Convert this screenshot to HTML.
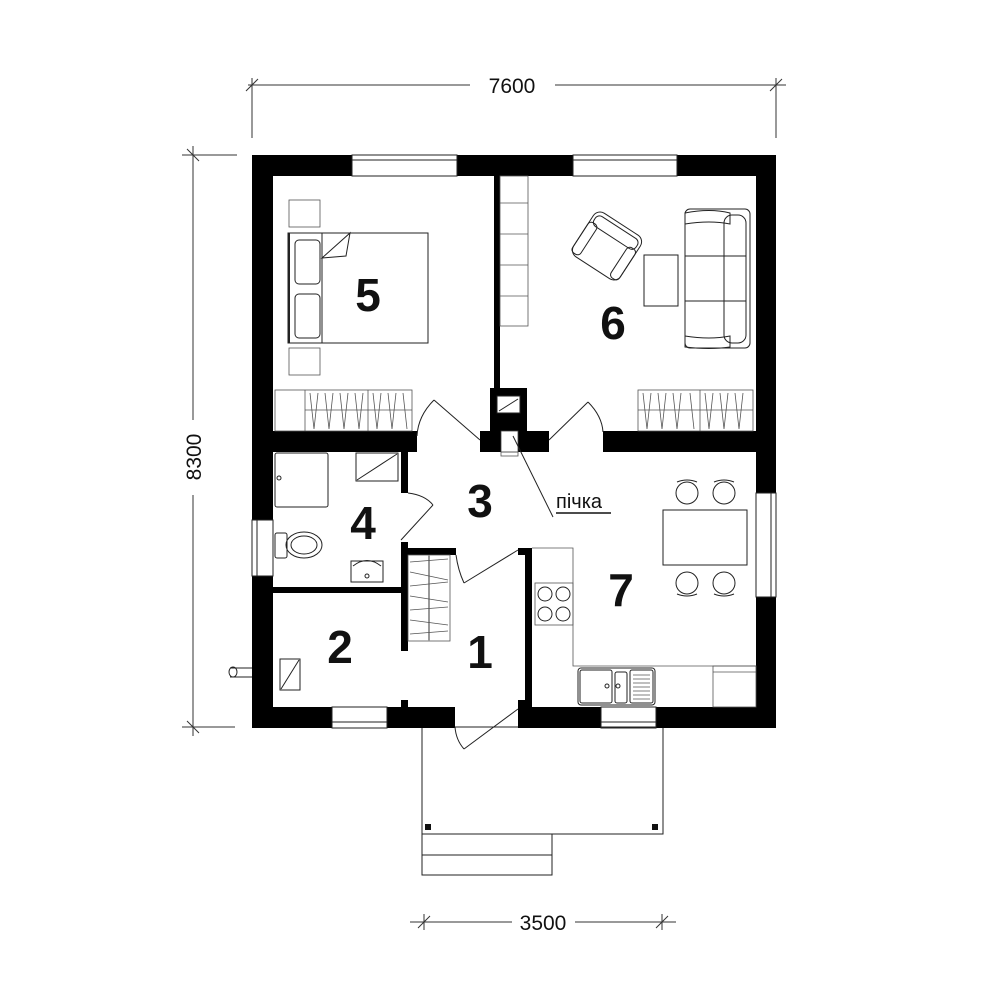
<!DOCTYPE html>
<html><head><meta charset="utf-8"><style>
html,body{margin:0;padding:0;background:#fff;}
svg{display:block;}
text{font-family:"Liberation Sans",sans-serif;}
.t{fill:none;stroke:#222;stroke-width:1}
.g{fill:none;stroke:#555;stroke-width:0.8}
.num{font-size:46px;font-weight:bold;fill:#111;text-anchor:middle}
.dim{font-size:21px;fill:#111;text-anchor:middle}
</style></head><body>
<svg width="1000" height="1000" viewBox="0 0 1000 1000" xmlns="http://www.w3.org/2000/svg">
<!-- dimensions -->
<g stroke="#333" stroke-width="1" fill="none">
<line x1="248" y1="85" x2="470" y2="85"/><line x1="555" y1="85" x2="786" y2="85"/>
<line x1="252" y1="78" x2="252" y2="138"/><line x1="776" y1="78" x2="776" y2="138"/>
<line x1="246" y1="91" x2="258" y2="79"/><line x1="770" y1="91" x2="782" y2="79"/>
<line x1="193" y1="146" x2="193" y2="420"/><line x1="193" y1="495" x2="193" y2="736"/>
<line x1="182" y1="155" x2="237" y2="155"/><line x1="182" y1="727" x2="235" y2="727"/>
<line x1="187" y1="149" x2="199" y2="161"/><line x1="187" y1="721" x2="199" y2="733"/>
<line x1="410" y1="922" x2="512" y2="922"/><line x1="575" y1="922" x2="676" y2="922"/>
<line x1="424" y1="914" x2="424" y2="930"/><line x1="662" y1="914" x2="662" y2="930"/>
<line x1="418" y1="928" x2="430" y2="916"/><line x1="656" y1="928" x2="668" y2="916"/>
</g>
<text x="512" y="93" class="dim">7600</text>
<text x="543" y="930" class="dim">3500</text>
<text transform="translate(201,457) rotate(-90)" class="dim">8300</text>

<!-- porch -->
<rect x="422" y="727" width="241" height="107" class="t"/>
<rect x="425" y="824" width="6" height="6" fill="#111"/>
<rect x="652" y="824" width="6" height="6" fill="#111"/>
<rect x="422" y="834" width="130" height="41" class="t"/>
<line x1="422" y1="855" x2="552" y2="855" class="t"/>

<!-- outer walls -->
<g fill="#000">
<rect x="252" y="155" width="100" height="21"/>
<rect x="457" y="155" width="116" height="21"/>
<rect x="677" y="155" width="99" height="21"/>
<rect x="252" y="155" width="21" height="365"/>
<rect x="252" y="576" width="21" height="152"/>
<rect x="756" y="155" width="20" height="338"/>
<rect x="756" y="597" width="20" height="131"/>
<rect x="252" y="707" width="80" height="21"/>
<rect x="387" y="707" width="68" height="21"/>
<rect x="518" y="707" width="83" height="21"/>
<rect x="656" y="707" width="120" height="21"/>
<rect x="494" y="176" width="6" height="255"/>
<rect x="273" y="431" width="144" height="21"/>
<rect x="480" y="431" width="69" height="21"/>
<rect x="603" y="431" width="153" height="21"/>
<rect x="490" y="388" width="37" height="43"/>
<rect x="401" y="452" width="7" height="41"/>
<rect x="401" y="542" width="7" height="109"/>
<rect x="401" y="548" width="55" height="7"/>
<rect x="273" y="587" width="128" height="6"/>
<rect x="525" y="548" width="7" height="159"/>
<rect x="518" y="548" width="14" height="7"/>
<rect x="518" y="700" width="14" height="7"/>
<rect x="401" y="700" width="7" height="7"/>
</g>
<!-- windows -->
<g class="t">
<rect x="352" y="155" width="105" height="21"/><line x1="352" y1="160" x2="457" y2="160"/>
<rect x="573" y="155" width="104" height="21"/><line x1="573" y1="160" x2="677" y2="160"/>
<rect x="252" y="520" width="21" height="56"/><line x1="257" y1="520" x2="257" y2="576"/>
<rect x="756" y="493" width="20" height="104"/><line x1="771" y1="493" x2="771" y2="597"/>
<rect x="332" y="707" width="55" height="21"/><line x1="332" y1="722" x2="387" y2="722"/>
<rect x="601" y="707" width="55" height="21"/><line x1="601" y1="722" x2="656" y2="722"/>
</g>
<!-- chimney -->
<rect x="497" y="396" width="23" height="17" fill="#fff" stroke="#222"/>
<line x1="499" y1="411" x2="518" y2="399" class="t"/>
<rect x="501" y="431" width="17" height="21" fill="#fff" stroke="#444" stroke-width="0.8"/>
<rect x="501" y="452" width="17" height="4" class="g"/>
<line x1="513" y1="436" x2="553" y2="517" class="t"/>
<text x="556" y="508" font-size="20" fill="#111">пічка</text>
<line x1="556" y1="513" x2="611" y2="513" stroke="#111" stroke-width="1.5"/>

<!-- shelves in room 6 -->
<rect x="500" y="176" width="28" height="150" class="g"/>
<g class="g"><line x1="500" y1="203" x2="528" y2="203"/><line x1="500" y1="234" x2="528" y2="234"/><line x1="500" y1="265" x2="528" y2="265"/><line x1="500" y1="296" x2="528" y2="296"/></g>

<!-- bed room 5 -->
<rect x="289" y="200" width="31" height="27" class="g"/>
<rect x="289" y="348" width="31" height="27" class="g"/>
<rect x="288" y="233" width="140" height="110" class="t"/>
<line x1="289" y1="233" x2="289" y2="343" stroke="#222" stroke-width="2"/>
<rect x="295" y="240" width="25" height="44" rx="4" class="t"/>
<rect x="295" y="294" width="25" height="44" rx="4" class="t"/>
<line x1="322" y1="233" x2="322" y2="343" class="t"/>
<path d="M322 258 L350 233 L346 256 Z" fill="#fff" stroke="#222"/>
<!-- wardrobe 5 -->
<rect x="275" y="390" width="137" height="41" class="g"/>
<line x1="305" y1="390" x2="305" y2="431" class="g"/><line x1="368" y1="390" x2="368" y2="431" class="g"/>
<line x1="305" y1="410" x2="412" y2="410" class="g"/>
<path d="M310 393 l4 36 M318 393 l-4 36 M325 393 l4 36 M333 393 l-4 36 M340 393 l4 36 M348 393 l-4 36 M355 393 l4 36 M363 393 l-4 36 M373 393 l4 36 M381 393 l-4 36 M388 393 l4 36 M396 393 l-4 36 M403 393 l4 36" class="g"/>
<!-- wardrobe 6 -->
<rect x="638" y="390" width="115" height="41" class="g"/>
<line x1="700" y1="390" x2="700" y2="431" class="g"/><line x1="638" y1="410" x2="753" y2="410" class="g"/>
<path d="M643 393 l4 36 M651 393 l-4 36 M658 393 l4 36 M666 393 l-4 36 M673 393 l4 36 M681 393 l-4 36 M690 393 l4 36 M705 393 l4 36 M713 393 l-4 36 M720 393 l4 36 M728 393 l-4 36 M735 393 l4 36 M743 393 l-4 36" class="g"/>

<!-- living room -->
<rect x="685" y="209" width="65" height="139" rx="5" class="t"/>
<path d="M685 213 Q710 208 730 213 L730 224 Q710 220 685 224 Z" class="t"/>
<path d="M685 336 Q710 340 730 336 L730 347 Q710 350 685 347 Z" class="t"/>
<rect x="724" y="215" width="22" height="128" rx="8" class="t"/>
<line x1="685" y1="256" x2="746" y2="256" class="t"/><line x1="685" y1="301" x2="746" y2="301" class="t"/>
<rect x="644" y="255" width="34" height="51" class="t"/>
<g transform="translate(607,246) rotate(33)">
<rect x="-28" y="-26" width="56" height="52" rx="8" class="t"/>
<rect x="-25" y="-22" width="50" height="12" rx="5" class="t"/>
<rect x="-28" y="-12" width="10" height="36" rx="4" class="t"/>
<rect x="18" y="-12" width="10" height="36" rx="4" class="t"/>
</g>

<!-- bathroom -->
<rect x="275" y="453" width="53" height="54" rx="2" class="t"/>
<circle cx="279" cy="478" r="2" class="t"/>
<rect x="356" y="453" width="42" height="28" class="t"/>
<line x1="357" y1="480" x2="397" y2="454" class="t"/>
<rect x="275" y="533" width="12" height="25" rx="2" class="t"/>
<ellipse cx="304" cy="545" rx="18" ry="13" class="t"/>
<ellipse cx="304" cy="545" rx="13" ry="9" class="t"/>
<rect x="351" y="561" width="32" height="21" class="t"/>
<path d="M353 566 Q367 555 381 566" class="t"/>
<circle cx="367" cy="576" r="2" class="t"/>
<!-- room 2 -->
<rect x="280" y="659" width="20" height="31" class="t"/>
<line x1="281" y1="689" x2="299" y2="660" class="t"/>
<line x1="230" y1="668" x2="252" y2="668" class="t"/><line x1="230" y1="677" x2="252" y2="677" class="t"/>
<ellipse cx="233" cy="672" rx="4" ry="5" class="t"/>
<!-- stair/wardrobe -->
<rect x="408" y="555" width="42" height="86" class="g"/>
<line x1="429" y1="555" x2="429" y2="641" stroke="#999" stroke-width="2"/>
<path d="M410 562 l38 -3 M410 572 l38 8 M410 586 l38 -4 M410 596 l38 6 M410 610 l38 -3 M410 620 l38 5 M410 634 l38 -3" class="g"/>

<!-- kitchen -->
<path d="M532 548 L573 548 L573 666 L756 666" class="g"/>
<rect x="535" y="583" width="38" height="42" class="g"/>
<circle cx="545" cy="594" r="7" class="t"/><circle cx="563" cy="594" r="7" class="t"/>
<circle cx="545" cy="614" r="7" class="t"/><circle cx="563" cy="614" r="7" class="t"/>
<rect x="578" y="668" width="77" height="37" rx="3" class="t"/>
<rect x="580" y="670" width="32" height="33" rx="2" class="t"/>
<rect x="615" y="672" width="12" height="31" rx="2" class="t"/>
<rect x="630" y="670" width="23" height="33" rx="2" class="t"/>
<path d="M633 675 h17 M633 679 h17 M633 683 h17 M633 687 h17 M633 691 h17 M633 695 h17 M633 699 h17" class="g"/>
<circle cx="607" cy="686" r="2" class="t"/><circle cx="618" cy="686" r="2" class="t"/>
<rect x="713" y="666" width="43" height="41" class="g"/><line x1="713" y1="672" x2="756" y2="672" class="g"/>
<rect x="663" y="510" width="84" height="55" class="t"/>
<g class="t">
<circle cx="687" cy="493" r="11"/><circle cx="724" cy="493" r="11"/>
<circle cx="687" cy="583" r="11"/><circle cx="724" cy="583" r="11"/>
<path d="M677 482 Q687 478 697 482 M714 482 Q724 478 734 482 M677 594 Q687 598 697 594 M714 594 Q724 598 734 594"/>
</g>

<!-- doors -->
<g class="t">
<line x1="480" y1="440" x2="434" y2="400"/><path d="M434 400 Q418 416 417 436"/>
<line x1="549" y1="440" x2="588" y2="402"/><path d="M588 402 Q602 416 603 432"/>
<line x1="401" y1="540" x2="433" y2="505"/><path d="M433 505 Q425 495 408 493"/>
<line x1="518" y1="550" x2="464" y2="583"/><path d="M464 583 Q458 570 456 555"/>
<line x1="518" y1="709" x2="464" y2="749"/><path d="M464 749 Q456 740 455 727"/>
</g>

<!-- numbers -->
<text x="368" y="311" class="num">5</text>
<text x="613" y="339" class="num">6</text>
<text x="480" y="517" class="num">3</text>
<text x="363" y="539" class="num">4</text>
<text x="340" y="663" class="num">2</text>
<text x="480" y="668" class="num">1</text>
<text x="621" y="606" class="num">7</text>
</svg>
</body></html>
